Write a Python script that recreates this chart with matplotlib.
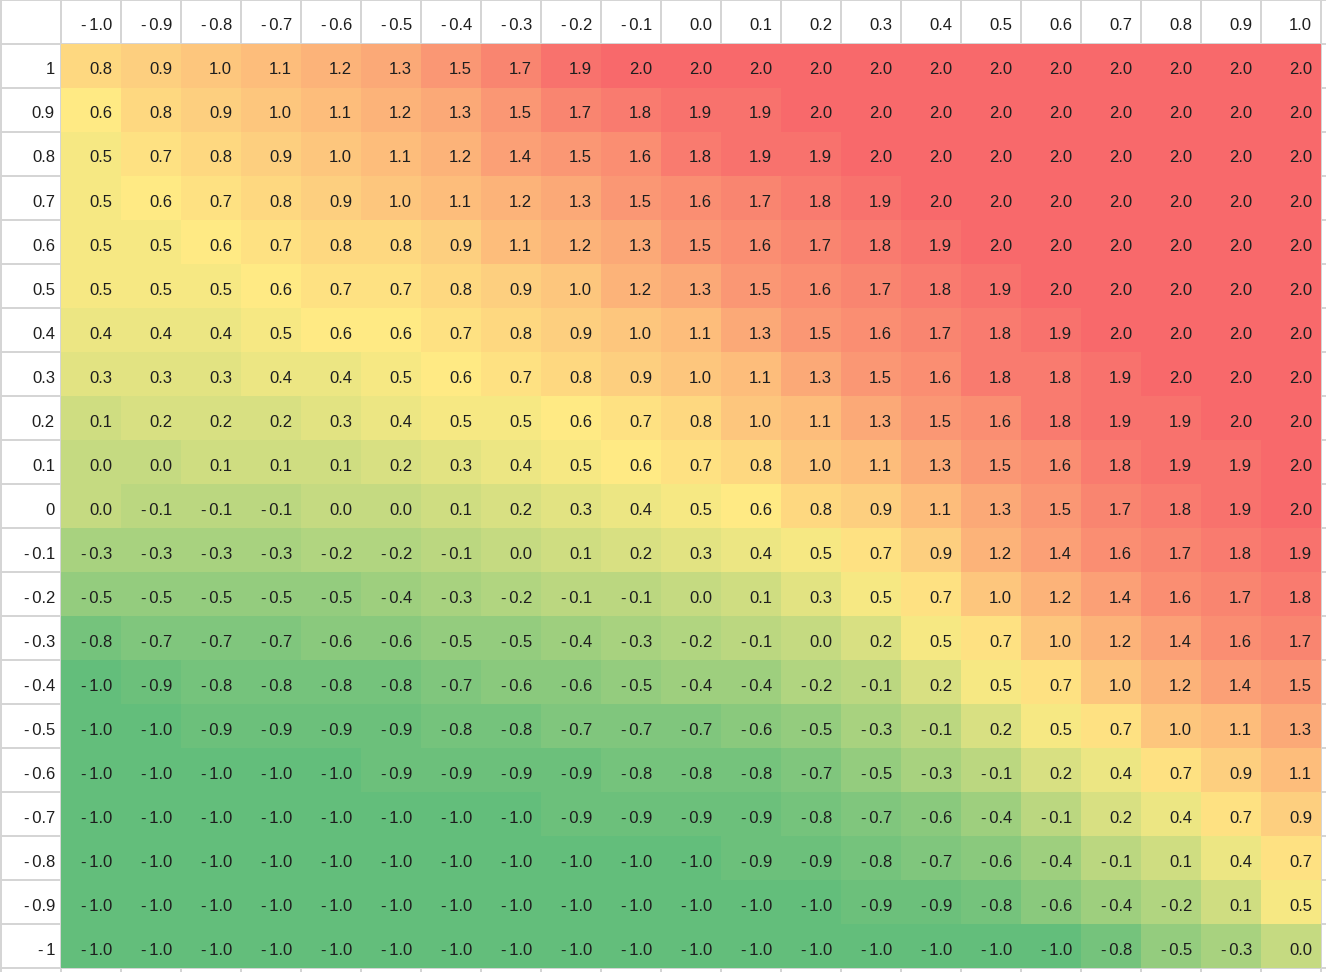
import numpy as np
import matplotlib.pyplot as plt
from matplotlib.colors import LinearSegmentedColormap, TwoSlopeNorm

col_labels = ["-1.0", "-0.9", "-0.8", "-0.7", "-0.6", "-0.5", "-0.4", "-0.3", "-0.2", "-0.1",
              "0.0", "0.1", "0.2", "0.3", "0.4", "0.5", "0.6", "0.7", "0.8", "0.9", "1.0"]
row_labels = ["1", "0.9", "0.8", "0.7", "0.6", "0.5", "0.4", "0.3", "0.2", "0.1", "0",
              "-0.1", "-0.2", "-0.3", "-0.4", "-0.5", "-0.6", "-0.7", "-0.8", "-0.9", "-1"]

values = np.array([
    [0.8, 0.9, 1.0, 1.1, 1.2, 1.3, 1.5, 1.7, 1.9, 2.0, 2.0, 2.0, 2.0, 2.0, 2.0, 2.0, 2.0, 2.0, 2.0, 2.0, 2.0],
    [0.6, 0.8, 0.9, 1.0, 1.1, 1.2, 1.3, 1.5, 1.7, 1.8, 1.9, 1.9, 2.0, 2.0, 2.0, 2.0, 2.0, 2.0, 2.0, 2.0, 2.0],
    [0.5, 0.7, 0.8, 0.9, 1.0, 1.1, 1.2, 1.4, 1.5, 1.6, 1.8, 1.9, 1.9, 2.0, 2.0, 2.0, 2.0, 2.0, 2.0, 2.0, 2.0],
    [0.5, 0.6, 0.7, 0.8, 0.9, 1.0, 1.1, 1.2, 1.3, 1.5, 1.6, 1.7, 1.8, 1.9, 2.0, 2.0, 2.0, 2.0, 2.0, 2.0, 2.0],
    [0.5, 0.5, 0.6, 0.7, 0.8, 0.8, 0.9, 1.1, 1.2, 1.3, 1.5, 1.6, 1.7, 1.8, 1.9, 2.0, 2.0, 2.0, 2.0, 2.0, 2.0],
    [0.5, 0.5, 0.5, 0.6, 0.7, 0.7, 0.8, 0.9, 1.0, 1.2, 1.3, 1.5, 1.6, 1.7, 1.8, 1.9, 2.0, 2.0, 2.0, 2.0, 2.0],
    [0.4, 0.4, 0.4, 0.5, 0.6, 0.6, 0.7, 0.8, 0.9, 1.0, 1.1, 1.3, 1.5, 1.6, 1.7, 1.8, 1.9, 2.0, 2.0, 2.0, 2.0],
    [0.3, 0.3, 0.3, 0.4, 0.4, 0.5, 0.6, 0.7, 0.8, 0.9, 1.0, 1.1, 1.3, 1.5, 1.6, 1.8, 1.8, 1.9, 2.0, 2.0, 2.0],
    [0.1, 0.2, 0.2, 0.2, 0.3, 0.4, 0.5, 0.5, 0.6, 0.7, 0.8, 1.0, 1.1, 1.3, 1.5, 1.6, 1.8, 1.9, 1.9, 2.0, 2.0],
    [0.0, 0.0, 0.1, 0.1, 0.1, 0.2, 0.3, 0.4, 0.5, 0.6, 0.7, 0.8, 1.0, 1.1, 1.3, 1.5, 1.6, 1.8, 1.9, 1.9, 2.0],
    [0.0, -0.1, -0.1, -0.1, 0.0, 0.0, 0.1, 0.2, 0.3, 0.4, 0.5, 0.6, 0.8, 0.9, 1.1, 1.3, 1.5, 1.7, 1.8, 1.9, 2.0],
    [-0.3, -0.3, -0.3, -0.3, -0.2, -0.2, -0.1, 0.0, 0.1, 0.2, 0.3, 0.4, 0.5, 0.7, 0.9, 1.2, 1.4, 1.6, 1.7, 1.8, 1.9],
    [-0.5, -0.5, -0.5, -0.5, -0.5, -0.4, -0.3, -0.2, -0.1, -0.1, 0.0, 0.1, 0.3, 0.5, 0.7, 1.0, 1.2, 1.4, 1.6, 1.7, 1.8],
    [-0.8, -0.7, -0.7, -0.7, -0.6, -0.6, -0.5, -0.5, -0.4, -0.3, -0.2, -0.1, 0.0, 0.2, 0.5, 0.7, 1.0, 1.2, 1.4, 1.6, 1.7],
    [-1.0, -0.9, -0.8, -0.8, -0.8, -0.8, -0.7, -0.6, -0.6, -0.5, -0.4, -0.4, -0.2, -0.1, 0.2, 0.5, 0.7, 1.0, 1.2, 1.4, 1.5],
    [-1.0, -1.0, -0.9, -0.9, -0.9, -0.9, -0.8, -0.8, -0.7, -0.7, -0.7, -0.6, -0.5, -0.3, -0.1, 0.2, 0.5, 0.7, 1.0, 1.1, 1.3],
    [-1.0, -1.0, -1.0, -1.0, -1.0, -0.9, -0.9, -0.9, -0.9, -0.8, -0.8, -0.8, -0.7, -0.5, -0.3, -0.1, 0.2, 0.4, 0.7, 0.9, 1.1],
    [-1.0, -1.0, -1.0, -1.0, -1.0, -1.0, -1.0, -1.0, -0.9, -0.9, -0.9, -0.9, -0.8, -0.7, -0.6, -0.4, -0.1, 0.2, 0.4, 0.7, 0.9],
    [-1.0, -1.0, -1.0, -1.0, -1.0, -1.0, -1.0, -1.0, -1.0, -1.0, -1.0, -0.9, -0.9, -0.8, -0.7, -0.6, -0.4, -0.1, 0.1, 0.4, 0.7],
    [-1.0, -1.0, -1.0, -1.0, -1.0, -1.0, -1.0, -1.0, -1.0, -1.0, -1.0, -1.0, -1.0, -0.9, -0.9, -0.8, -0.6, -0.4, -0.2, 0.1, 0.5],
    [-1.0, -1.0, -1.0, -1.0, -1.0, -1.0, -1.0, -1.0, -1.0, -1.0, -1.0, -1.0, -1.0, -1.0, -1.0, -1.0, -1.0, -0.8, -0.5, -0.3, 0.0],
])

W, H = 1326, 972
cw, ch = 60, 44          # cell size in pixels
x0, y0 = 1, 0            # first grid line
fonts = ['Liberation Sans', 'DejaVu Sans']
txt_color = '#1e1e1e'
grid_color = '#d4d4d4'


def fmt(s):
    # spreadsheet shows a little gap after the minus
    return s.replace('-', '-\u2006')


cmap = LinearSegmentedColormap.from_list('gyr', ['#63be7b', '#ffeb84', '#f8696b'])
norm = TwoSlopeNorm(vmin=values.min(), vcenter=np.median(values), vmax=values.max())

fig = plt.figure(figsize=(W / 100, H / 100), dpi=100)
ax = fig.add_axes([0, 0, 1, 1])
ax.set_xlim(0, W)
ax.set_ylim(H, 0)
ax.axis('off')

ncols = len(col_labels)
nrows = len(row_labels)

# grid lines
for k in range(ncols + 2):
    ax.axvline(x0 + k * cw, color=grid_color, lw=1.4, zorder=0)
for k in range(nrows + 2):
    ax.axhline(y0 + k * ch, color=grid_color, lw=1.4, zorder=0)

# coloured cells
xe = x0 + cw * (1 + np.arange(ncols + 1))
ye = y0 + ch * (1 + np.arange(nrows + 1))
ax.pcolormesh(xe, ye, values, cmap=cmap, norm=norm, zorder=1)

fs = 12
base = 13.5
# column headers
for j, lab in enumerate(col_labels):
    ax.text(xe[j + 1] - 9, y0 + ch - base, fmt(lab), ha='right', va='baseline',
            fontsize=fs, family=fonts, color=txt_color, zorder=3)
# row headers
for i, lab in enumerate(row_labels):
    ax.text(x0 + cw - 6, ye[i + 1] - base, fmt(lab), ha='right', va='baseline',
            fontsize=fs, family=fonts, color=txt_color, zorder=3)
# cell values
for i in range(nrows):
    for j in range(ncols):
        ax.text(xe[j + 1] - 9, ye[i + 1] - base, fmt('%.1f' % values[i, j]),
                ha='right', va='baseline', fontsize=fs, family=fonts,
                color=txt_color, zorder=3)

fig.savefig('out.png', dpi=100)
